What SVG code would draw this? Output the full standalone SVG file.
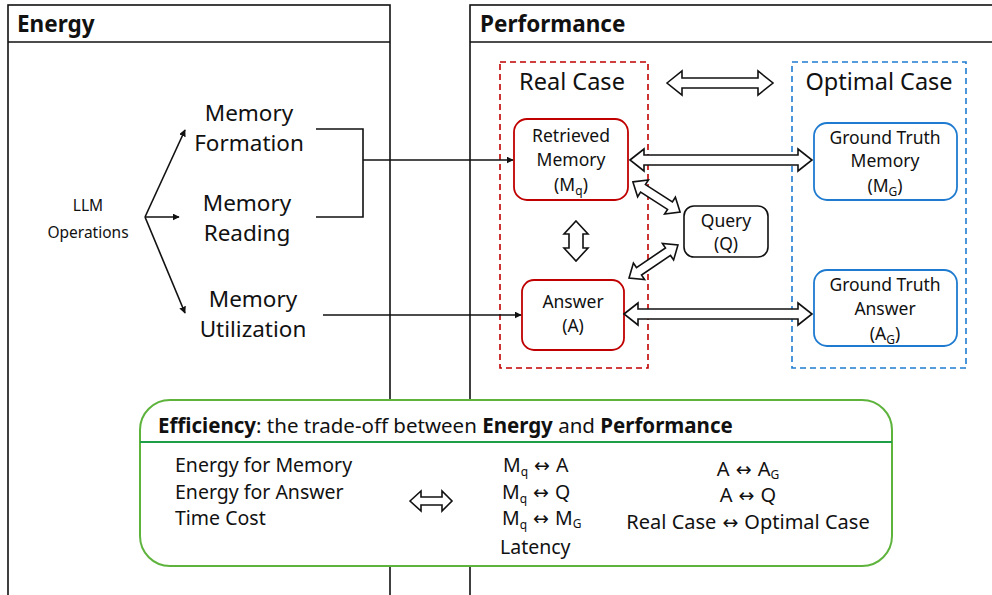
<svg xmlns="http://www.w3.org/2000/svg" width="992" height="595" viewBox="0 0 992 595">
<defs>
<style>
text{font-family:"Noto Sans","Open Sans",sans-serif;fill:#111}
.hd{font-size:22.5px;font-weight:bold}
.big{font-size:22.5px;text-anchor:middle}
.case{font-size:23.5px;text-anchor:middle}
.nd{font-size:17.5px;text-anchor:middle}
.ef{font-size:19.5px}
.efh{font-size:20.5px}
.rc{font-size:20px;text-anchor:middle}
.op{font-size:15.5px;text-anchor:middle}
.panel{fill:none;stroke:#111;stroke-width:1.6}
.ln{fill:none;stroke:#111;stroke-width:1.6}
.ha{fill:#fff;stroke:#111;stroke-width:1.6;stroke-linejoin:miter}
.sub{font-size:12px}
.ar{font-family:"DejaVu Sans",sans-serif;font-size:19px}
</style>
<marker id="ah" viewBox="0 0 10 10" refX="9" refY="5" markerWidth="7" markerHeight="7" orient="auto" markerUnits="userSpaceOnUse">
<path d="M0,0 L10,5 L0,10 z" fill="#111"/>
</marker>
</defs>
<rect width="992" height="595" fill="#fff"/>
<g id="energy-panel">
<rect class="panel" x="8" y="5" width="382" height="600"/>
<line class="panel" x1="8" y1="42" x2="390" y2="42"/>
<text class="hd" x="17" y="32">Energy</text>
</g>
<g id="performance-panel">
<rect class="panel" x="470" y="5" width="540" height="600"/>
<line class="panel" x1="470" y1="42" x2="992" y2="42"/>
<text class="hd" x="480" y="32">Performance</text>
</g>
<g id="real-case">
<rect x="500" y="62" width="148" height="306" fill="none" stroke="#c00000" stroke-width="1.6" stroke-dasharray="6,4"/>
<text class="case" x="572" y="90">Real Case</text>
</g>
<g id="optimal-case">
<rect x="792" y="62" width="174" height="306" fill="none" stroke="#1f7bd0" stroke-width="1.6" stroke-dasharray="6,4"/>
<text class="case" x="879" y="90">Optimal Case</text>
</g>
<g id="llm-ops"><text class="op" x="88" y="211">LLM</text><text class="op" x="88" y="238">Operations</text></g>
<g id="mem-formation"><text class="big" x="249" y="121">Memory</text><text class="big" x="249" y="151">Formation</text></g>
<g id="mem-reading"><text class="big" x="247" y="211">Memory</text><text class="big" x="247" y="241">Reading</text></g>
<g id="mem-utilization"><text class="big" x="253" y="307">Memory</text><text class="big" x="253" y="337">Utilization</text></g>
<g id="retrieved-memory">
<rect x="514" y="119" width="114" height="81" rx="13" fill="#fff" stroke="#c00000" stroke-width="1.8"/>
<text class="nd" x="571" y="142">Retrieved</text>
<text class="nd" x="571" y="166">Memory</text>
<text class="nd" x="571" y="191">(M<tspan class="sub" dy="4">q</tspan><tspan dy="-4">)</tspan></text>
</g>
<g id="query">
<rect x="684" y="206" width="84" height="51" rx="10" fill="#fff" stroke="#111" stroke-width="1.6"/>
<text class="nd" x="726" y="227">Query</text>
<text class="nd" x="726" y="250">(Q)</text>
</g>
<g id="answer">
<rect x="522" y="280" width="102" height="70" rx="12" fill="#fff" stroke="#c00000" stroke-width="1.8"/>
<text class="nd" x="573" y="308">Answer</text>
<text class="nd" x="573" y="332">(A)</text>
</g>
<g id="gt-memory">
<rect x="814" y="123" width="143" height="77" rx="13" fill="#fff" stroke="#1f7bd0" stroke-width="1.8"/>
<text class="nd" x="885" y="144">Ground Truth</text>
<text class="nd" x="885" y="167">Memory</text>
<text class="nd" x="885" y="192">(M<tspan class="sub" dy="4">G</tspan><tspan dy="-4">)</tspan></text>
</g>
<g id="gt-answer">
<rect x="814" y="270" width="143" height="76" rx="13" fill="#fff" stroke="#1f7bd0" stroke-width="1.8"/>
<text class="nd" x="885" y="291">Ground Truth</text>
<text class="nd" x="885" y="315">Answer</text>
<text class="nd" x="885" y="340">(A<tspan class="sub" dy="4">G</tspan><tspan dy="-4">)</tspan></text>
</g>
<g id="connectors">
<line class="ln" x1="145" y1="217" x2="185" y2="130" marker-end="url(#ah)"/>
<line class="ln" x1="145" y1="217" x2="179" y2="217" marker-end="url(#ah)"/>
<line class="ln" x1="145" y1="217" x2="185" y2="313" marker-end="url(#ah)"/>
<polyline class="ln" points="316,129 363,129 363,217 316,217"/>
<line class="ln" x1="363" y1="160" x2="513" y2="160" marker-end="url(#ah)"/>
<line class="ln" x1="323" y1="315" x2="521" y2="315" marker-end="url(#ah)"/>
<polygon class="ha" points="667,83 682,71 682,78 758,78 758,71 773,83 758,95 758,88 682,88 682,95"/>
<polygon class="ha" points="630,160 644,149 644,155 798,155 798,149 812,160 798,171 798,165 644,165 644,171"/>
<polygon class="ha" points="624,314 638,303 638,309 798,309 798,303 812,314 798,325 798,319 638,319 638,325"/>
<polygon class="ha" points="576,221 588,234 583,234 583,248 588,248 576,261 564,248 569,248 569,234 564,234"/>
<polygon class="ha" transform="translate(656.5,197) rotate(32.6)" points="-28,0 -16,-10 -16,-4.5 16,-4.5 16,-10 28,0 16,10 16,4.5 -16,4.5 -16,10"/>
<polygon class="ha" transform="translate(653.5,261.5) rotate(-34)" points="-29.5,0 -17.5,-10 -17.5,-4.5 17.5,-4.5 17.5,-10 29.5,0 17.5,10 17.5,4.5 -17.5,4.5 -17.5,10"/>
</g>
<g id="efficiency">
<rect x="140" y="400" width="752" height="166" rx="30" fill="#fff" stroke="#5db33c" stroke-width="2"/>
<line x1="140" y1="442" x2="892" y2="442" stroke="#1e9e48" stroke-width="2"/>
<text class="efh" x="158" y="433"><tspan font-weight="bold">Efficiency</tspan>: the trade-off between <tspan font-weight="bold">Energy</tspan> and <tspan font-weight="bold">Performance</tspan></text>
<text class="ef" x="175" y="472">Energy for Memory</text>
<text class="ef" x="175" y="499">Energy for Answer</text>
<text class="ef" x="175" y="525">Time Cost</text>
<polygon class="ha" points="410,501 421,491 421,497 442,497 442,491 452,501 442,511 442,505 421,505 421,511"/>
<text class="ef" x="503" y="472">M<tspan class="sub" dy="4">q</tspan><tspan class="ar" dy="-4"> ↔ </tspan>A</text>
<text class="ef" x="502" y="499">M<tspan class="sub" dy="4">q</tspan><tspan class="ar" dy="-4"> ↔ </tspan>Q</text>
<text class="ef" x="502" y="525">M<tspan class="sub" dy="4">q</tspan><tspan class="ar" dy="-4"> ↔ </tspan>M<tspan class="sub" dy="3">G</tspan></text>
<text class="ef" x="500" y="554">Latency</text>
<text class="rc" x="748" y="476">A<tspan class="ar"> ↔ </tspan>A<tspan class="sub" dy="3">G</tspan></text>
<text class="rc" x="748" y="502">A<tspan class="ar"> ↔ </tspan>Q</text>
<text class="rc" x="748" y="529">Real Case<tspan class="ar"> ↔ </tspan>Optimal Case</text>
</g>
</svg>
